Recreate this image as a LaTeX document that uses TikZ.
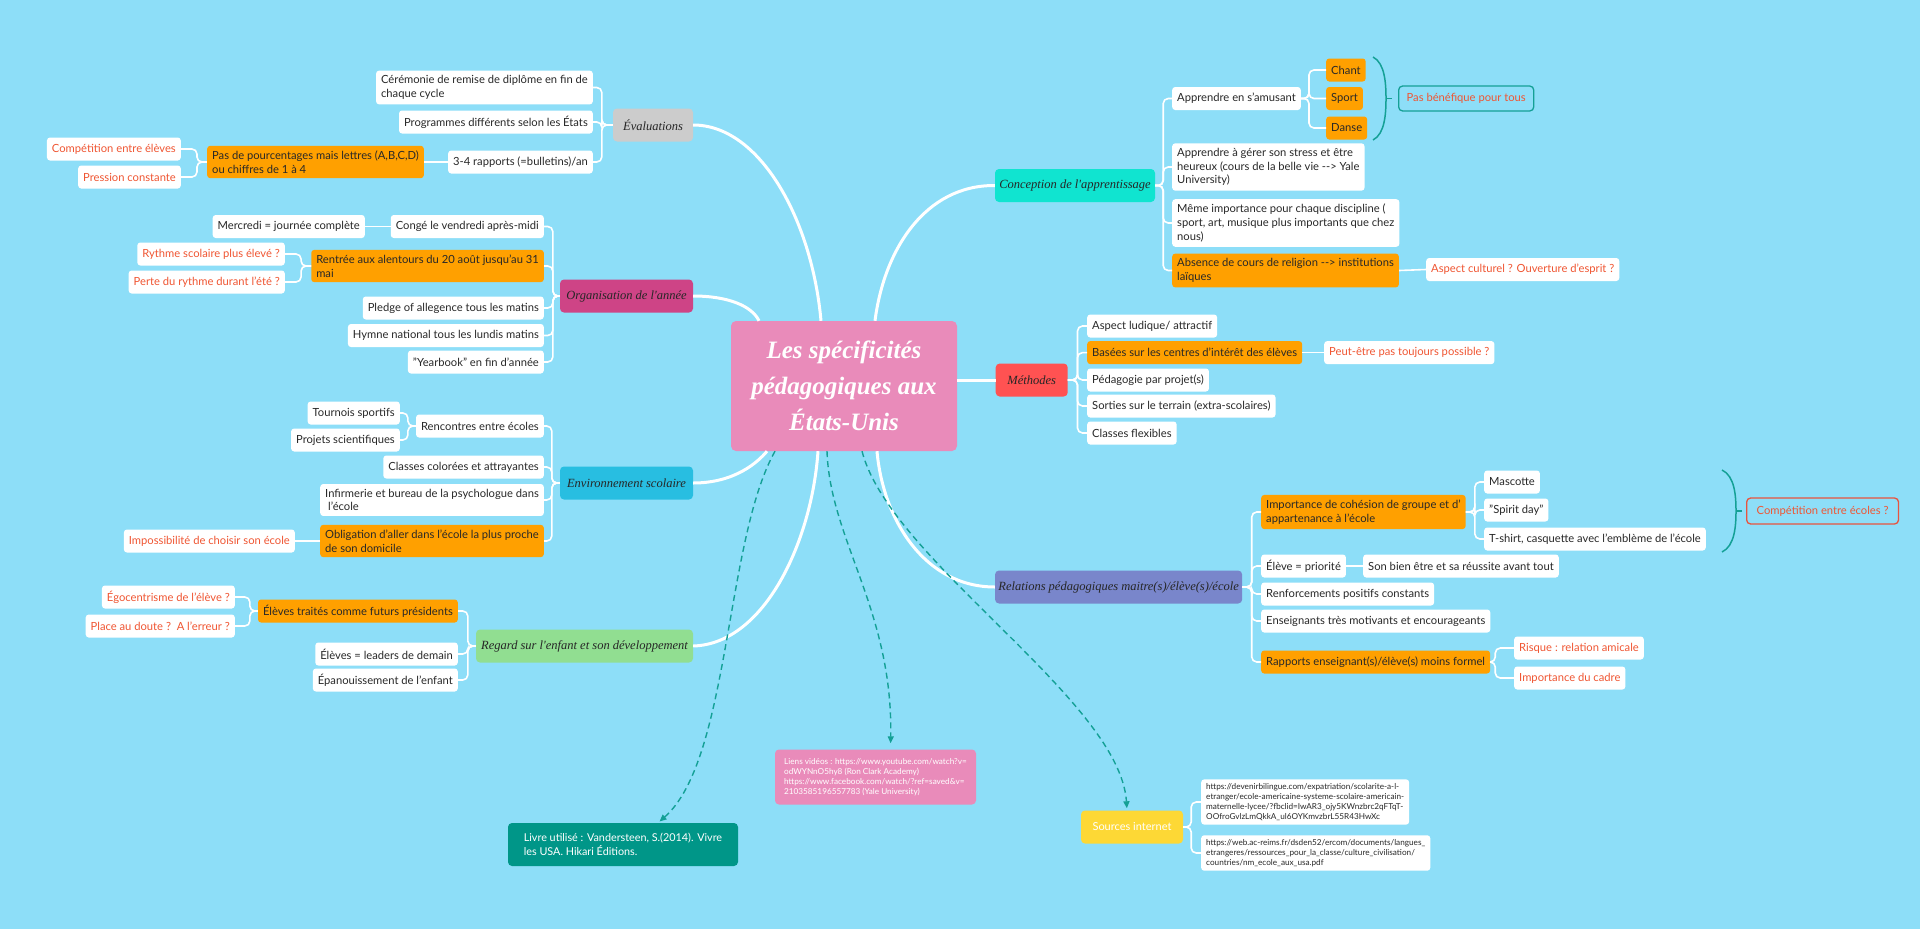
\documentclass[tikz,border=0pt]{standalone}
\usepackage{fontspec}
\setmainfont{Lato}
\newfontfamily\brf{Liberation Serif}
\usetikzlibrary{arrows.meta}
\definecolor{bg}{RGB}{141,222,248}
\definecolor{txt}{RGB}{40,40,40}
\definecolor{org}{RGB}{255,160,0}
\definecolor{redt}{RGB}{240,85,50}
\definecolor{cEval}{RGB}{204,204,204}
\definecolor{cOrg}{RGB}{206,68,134}
\definecolor{cEnv}{RGB}{40,190,225}
\definecolor{cReg}{RGB}{145,222,145}
\definecolor{cCon}{RGB}{16,228,208}
\definecolor{cMet}{RGB}{255,82,82}
\definecolor{cRel}{RGB}{121,134,203}
\definecolor{cPink}{RGB}{233,139,186}
\definecolor{cTeal}{RGB}{0,150,136}
\definecolor{cYel}{RGB}{253,216,53}
\definecolor{dteal}{RGB}{20,160,150}
\definecolor{outred}{RGB}{232,84,63}
\tikzset{
  wbox/.style={fill=white, rounded corners=3pt, text=txt, font=\fontsize{11.2}{13.6}\selectfont,
    inner xsep=5pt, inner ysep=5pt, minimum height=23pt, align=left},
  obox/.style={wbox, fill=org},
  rbox/.style={wbox, text=redt},
  mbox/.style={rounded corners=4pt, minimum height=33pt, text=black!85,
    font=\brf\itshape\fontsize{12.5}{15}\selectfont},
  br/.style={draw=white, line width=1.6pt, rounded corners=5pt},
  mainlink/.style={draw=white, line width=3pt},
  dlink/.style={draw=dteal, dash pattern=on 6pt off 4pt, line width=1.4pt,
    -{Triangle[length=7pt,width=6pt]}},
  brc/.style={draw=dteal, line width=1.5pt},
  smalltxt/.style={font=\fontsize{8.2}{10}\selectfont, align=left},
}
\begin{document}
\begin{tikzpicture}[x=1pt,y=-1pt]
\fill[bg] (0,0) rectangle (1920,929);
\useasboundingbox (0,0) rectangle (1920,929);

% central
\node[fill=cPink, rounded corners=5pt, minimum width=226pt, minimum height=130pt, text=white,
  align=center, font=\brf\bfseries\itshape\fontsize{25}{36}\selectfont] (c) at (844,386)
  {Les spécificités\\pédagogiques aux\\États-Unis};

% ---------------- Evaluations
\node[mbox, fill=cEval, minimum width=80pt] (ev) at (653,125) {Évaluations};
\node[wbox, anchor=east] (ev1) at (593,87.5) {Cérémonie de remise de diplôme en fin de\\chaque cycle};
\node[wbox, anchor=east] (ev2) at (593,122) {Programmes différents selon les États};
\node[wbox, anchor=east] (ev3) at (593,162) {3-4 rapports (=bulletins)/an};
\node[obox, anchor=east] (ev31) at (424,162) {Pas de pourcentages mais lettres (A,B,C,D)\\ou chiffres de 1 à 4};
\node[rbox, anchor=east] (ev311) at (181,149) {Compétition entre élèves};
\node[rbox, anchor=east] (ev312) at (181,177) {Pression constante};
\foreach \k in {ev1,ev2,ev3} \draw[br] (ev.west) -- ([xshift=-11pt]ev.west) |- (\k.east);
\draw[br] (ev3.west) -- (ev31.east);
\foreach \k in {ev311,ev312} \draw[br] (ev31.west) -- ([xshift=-10pt]ev31.west) |- (\k.east);

% ---------------- Organisation
\node[mbox, fill=cOrg, minimum width=133pt] (or) at (626.5,296) {Organisation de l'année};
\node[wbox, anchor=east] (or1) at (544,226.5) {Congé le vendredi après-midi};
\node[wbox, anchor=east] (or11) at (365,226.5) {Mercredi = journée complète};
\node[obox, anchor=east] (or2) at (544,266) {Rentrée aux alentours du 20 août jusqu'au 31\\mai};
\node[rbox, anchor=east] (or21) at (285,254) {Rythme scolaire plus élevé ?};
\node[rbox, anchor=east] (or22) at (285,282) {Perte du rythme durant l'été ?};
\node[wbox, anchor=east] (or3) at (544,308) {Pledge of allegence tous les matins};
\node[wbox, anchor=east] (or4) at (544,335.5) {Hymne national tous les lundis matins};
\node[wbox, anchor=east] (or5) at (544,362) {"Yearbook" en fin d'année};
\foreach \k in {or1,or2,or3,or4,or5} \draw[br] (or.west) -- ([xshift=-7pt]or.west) |- (\k.east);
\draw[br] (or1.west) -- (or11.east);
\foreach \k in {or21,or22} \draw[br] (or2.west) -- ([xshift=-10pt]or2.west) |- (\k.east);

% ---------------- Environnement
\node[mbox, fill=cEnv, minimum width=133pt] (en) at (626.5,483) {Environnement scolaire};
\node[wbox, anchor=east] (en1) at (544,426) {Rencontres entre écoles};
\node[wbox, anchor=east] (en11) at (400,413) {Tournois sportifs};
\node[wbox, anchor=east] (en12) at (400,440) {Projets scientifiques};
\node[wbox, anchor=east] (en2) at (544,467) {Classes colorées et attrayantes};
\node[wbox, anchor=east] (en3) at (544,500) {Infirmerie et bureau de la psychologue dans\\\ l'école};
\node[obox, anchor=east] (en4) at (544,541) {Obligation d'aller dans l'école la plus proche\\de son domicile};
\node[rbox, anchor=east] (en41) at (295,541) {Impossibilité de choisir son école};
\foreach \k in {en1,en2,en3,en4} \draw[br] (en.west) -- ([xshift=-8pt]en.west) |- (\k.east);
\foreach \k in {en11,en12} \draw[br] (en1.west) -- ([xshift=-8pt]en1.west) |- (\k.east);
\draw[br] (en4.west) -- (en41.east);

% ---------------- Regard
\node[mbox, fill=cReg, minimum width=217pt] (rg) at (584.5,646) {Regard sur l'enfant et son développement};
\node[obox, anchor=east] (rg1) at (458,611) {Élèves traités comme futurs présidents};
\node[rbox, anchor=east] (rg11) at (235,597) {Égocentrisme de l'élève ?};
\node[rbox, anchor=east] (rg12) at (235,626) {Place au doute ?\ \ A l'erreur ?};
\node[wbox, anchor=east] (rg2) at (458,654) {Élèves = leaders de demain};
\node[wbox, anchor=east] (rg3) at (458,680) {Épanouissement de l'enfant};
\foreach \k in {rg1,rg2,rg3} \draw[br] (rg.west) -- ([xshift=-8pt]rg.west) |- (\k.east);
\foreach \k in {rg11,rg12} \draw[br] (rg1.west) -- ([xshift=-8pt]rg1.west) |- (\k.east);

% ---------------- Conception
\node[mbox, fill=cCon, minimum width=160pt] (co) at (1075,185.5) {Conception de l'apprentissage};
\node[wbox, anchor=west] (co1) at (1172,98.5) {Apprendre en s'amusant};
\node[obox, anchor=west] (co11) at (1326,70) {Chant};
\node[obox, anchor=west] (co12) at (1326,98.5) {Sport};
\node[obox, anchor=west] (co13) at (1326,128) {Danse};
\node[wbox, anchor=west, draw=dteal, fill=none, text=redt, line width=1.3pt, rounded corners=4pt,
  minimum height=25pt, inner xsep=8pt] (co1b) at (1398,98.5) {Pas bénéfique pour tous};
\node[wbox, anchor=west] (co2) at (1172,167) {Apprendre à gérer son stress et être\\heureux (cours de la belle vie -\kern0pt-\kern0pt> Yale\\University)};
\node[wbox, anchor=west] (co3) at (1172,223) {Même importance pour chaque discipline (\\sport, art, musique plus importants que chez\\nous)};
\node[obox, anchor=west] (co4) at (1172,270.5) {Absence de cours de religion -\kern0pt-\kern0pt> institutions\\laïques};
\node[rbox, anchor=west] (co41) at (1426,269.5) {Aspect culturel ? Ouverture d'esprit ?};
\foreach \k in {co1,co2,co3,co4} \draw[br] (co.east) -- ([xshift=8pt]co.east) |- (\k.west);
\foreach \k in {co11,co12,co13} \draw[br] (co1.east) -- ([xshift=8pt]co1.east) |- (\k.west);
\draw[br] (co4.east) -- (co41.west);
\coordinate (bAt) at (1373,57);
\coordinate (bAb) at (1373,140);
\coordinate (bAm) at (1386,98.5);
\coordinate (bAk) at (1392,98.5);
\draw[brc] (bAt) .. controls (1385,63) and (1386,84) .. (bAm) .. controls (1386,113) and (1385,134) .. (bAb);
\draw[brc] (bAm) -- (bAk);

% ---------------- Methodes
\node[mbox, fill=cMet, minimum width=72pt] (me) at (1031.7,380) {Méthodes};
\node[wbox, anchor=west] (me1) at (1087,326) {Aspect ludique/ attractif};
\node[obox, anchor=west] (me2) at (1087,352.6) {Basées sur les centres d'intérêt des élèves};
\node[rbox, anchor=west] (me21) at (1324,352.6) {Peut-être pas toujours possible ?};
\node[wbox, anchor=west] (me3) at (1087,380) {Pédagogie par projet(s)};
\node[wbox, anchor=west] (me4) at (1087,406) {Sorties sur le terrain (extra-scolaires)};
\node[wbox, anchor=west] (me5) at (1087,433) {Classes flexibles};
\foreach \k in {me1,me2,me3,me4,me5} \draw[br] (me.east) -- ([xshift=9.6pt]me.east) |- (\k.west);
\draw[br] (me2.east) -- (me21.west);

% ---------------- Relations
\node[mbox, fill=cRel, minimum width=246pt] (re) at (1118.6,587) {Relations pédagogiques maitre(s)/élève(s)/école};
\node[obox, anchor=west] (re1) at (1261,512) {Importance de cohésion de groupe et d'\\appartenance à l'école};
\node[wbox, anchor=west] (re11) at (1484,482) {Mascotte};
\node[wbox, anchor=west] (re12) at (1484,510) {"Spirit day"};
\node[wbox, anchor=west] (re13) at (1484,539) {T-shirt, casquette avec l'emblème de l'école};
\node[wbox, anchor=west, draw=outred, fill=none, text=redt, line width=1.3pt, rounded corners=4pt,
  minimum height=26pt, inner xsep=10pt] (re1b) at (1746,511) {Compétition entre écoles ?};
\node[wbox, anchor=west] (re2) at (1261,566) {Élève = priorité};
\node[wbox, anchor=west] (re21) at (1363,566) {Son bien être et sa réussite avant tout};
\node[wbox, anchor=west] (re3) at (1261,594) {Renforcements positifs constants};
\node[wbox, anchor=west] (re4) at (1261,621) {Enseignants très motivants et encourageants};
\node[obox, anchor=west] (re5) at (1261,662) {Rapports enseignant(s)/élève(s) moins formel};
\node[rbox, anchor=west] (re51) at (1514,648) {Risque : relation amicale};
\node[rbox, anchor=west] (re52) at (1514,678) {Importance du cadre};
\foreach \k in {re1,re2,re3,re4,re5} \draw[br] (re.east) -- ([xshift=9.4pt]re.east) |- (\k.west);
\foreach \k in {re11,re12,re13} \draw[br] (re1.east) -- ([xshift=9pt]re1.east) |- (\k.west);
\draw[br] (re2.east) -- (re21.west);
\foreach \k in {re51,re52} \draw[br] (re5.east) -- ([xshift=5pt]re5.east) |- (\k.west);
\coordinate (bBt) at (1722,470);
\coordinate (bBb) at (1722,552);
\coordinate (bBm) at (1736,511);
\coordinate (bBk) at (1742,511);
\draw[brc] (bBt) .. controls (1735,476) and (1736,497) .. (bBm) .. controls (1736,525) and (1735,546) .. (bBb);
\draw[brc] (bBm) -- (bBk);

% ---------------- bottom boxes
\node[fill=cTeal, rounded corners=4pt, minimum width=230pt, minimum height=43pt, text=white,
  align=left, font=\fontsize{10.8}{13.5}\selectfont, inner xsep=8pt] (lv) at (623,844.5)
  {Livre utilisé : Vandersteen, S.(2014). Vivre\\les USA. Hikari Éditions.};
\node[fill=cPink, rounded corners=4pt, minimum width=201pt, minimum height=55pt, text=white,
  smalltxt, inner xsep=6pt] (li) at (875.5,777)
  {Liens vidéos : https://www.youtube.com/watch?v=\\odWYNnO5hy8 (Ron Clark Academy)\\https://www.facebook.com/watch/?ref=saved\&v=\\2103585196557783 (Yale University)};
\node[fill=cYel, rounded corners=4pt, minimum width=102pt, minimum height=33pt, text=white,
  font=\fontsize{11}{13}\selectfont] (so) at (1132,827) {Sources internet};
\node[wbox, anchor=west, smalltxt, text=txt, inner ysep=4pt] (so1) at (1201,802)
  {https://devenirbilingue.com/expatriation/scolarite-a-l-\\etranger/ecole-americaine-systeme-scolaire-americain-\\maternelle-lycee/?fbclid=IwAR3\_ojy5KWnzbrc2qFTqT-\\OOfroGvlzLmQkkA\_ul6OYKmvzbrL55R43HwXc};
\node[wbox, anchor=west, smalltxt, text=txt, inner ysep=4pt] (so2) at (1201,853)
  {https://web.ac-reims.fr/dsden52/ercom/documents/langues\_\\etrangeres/ressources\_pour\_la\_classe/culture\_civilisation/\\countries/nm\_ecole\_aux\_usa.pdf};
\foreach \k in {so1,so2} \draw[br] (so.east) -- ([xshift=8pt]so.east) |- (\k.west);

% ---------------- main links
\coordinate (cEv) at ([xshift=-23pt]c.north);
\coordinate (cOr) at ([xshift=-85pt]c.north);
\coordinate (cCo) at ([xshift=31pt]c.north);
\coordinate (cEn) at ([xshift=-77pt]c.south);
\coordinate (cRg) at ([xshift=-26pt]c.south);
\coordinate (cRe) at ([xshift=33pt]c.south);
\coordinate (dA) at ([xshift=-69pt]c.south);
\coordinate (dB) at ([xshift=-17pt]c.south);
\coordinate (dC) at ([xshift=18pt]c.south);
\draw[mainlink] (ev.east) .. controls (760,125) and (812,220) .. (cEv);
\draw[mainlink] (or.east) .. controls (728,296) and (752,306) .. (cOr);
\draw[mainlink] (en.east) .. controls (735,483) and (758,462) .. (cEn);
\draw[mainlink] (rg.east) .. controls (765,644) and (812,540) .. (cRg);
\draw[mainlink] (co.west) .. controls (925,185) and (884,250) .. (cCo);
\draw[mainlink] (re.west) .. controls (925,587) and (883,520) .. (cRe);
\draw[mainlink] (c.east |- me.west) -- (me.west);

% ---------------- dashed links
\draw[dlink, shorten >=2pt] (dA) .. controls (725,540) and (730,760) .. ([xshift=35pt]lv.north);
\draw[dlink, shorten >=6pt] (dB) .. controls (830,540) and (893,610) .. ([xshift=15pt]li.north);
\draw[dlink, shorten >=2pt] (dC) .. controls (890,560) and (1120,700) .. ([xshift=-5pt]so.north);
\end{tikzpicture}
\end{document}
